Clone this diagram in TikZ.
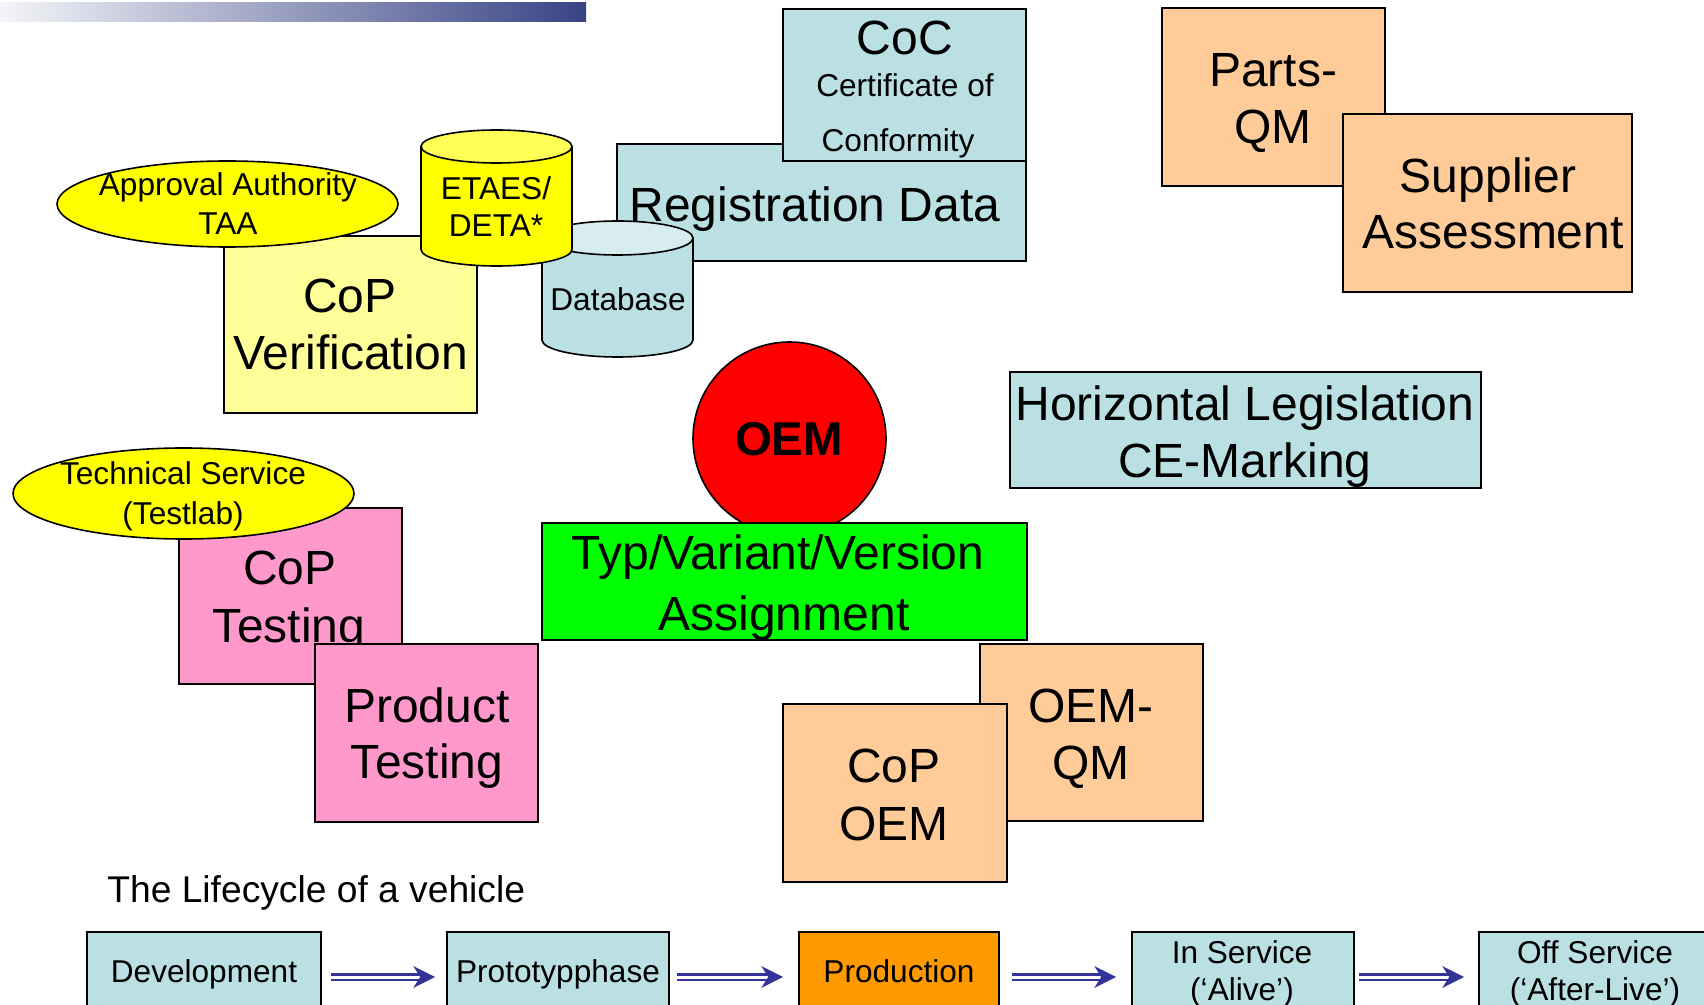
\documentclass[tikz,border=0pt]{standalone}
\usepackage{fontspec}
\setmainfont{Liberation Sans}
\usetikzlibrary{shapes.geometric}
\definecolor{lblue}{HTML}{BBE0E3}
\definecolor{lbluetop}{HTML}{D6ECEF}
\definecolor{lyellow}{HTML}{FFFF99}
\definecolor{yel}{HTML}{FFFF00}
\definecolor{yeltop}{HTML}{FFFF55}
\definecolor{pink}{HTML}{FF99CC}
\definecolor{peach}{HTML}{FFCC99}
\definecolor{prodorange}{HTML}{FF9900}
\definecolor{vgreen}{HTML}{00FF00}
\definecolor{vred}{HTML}{FF0000}
\definecolor{arrowblue}{HTML}{333399}
\definecolor{barleft}{HTML}{F4F5F8}
\definecolor{barmid}{HTML}{B6B9CB}
\definecolor{barright}{HTML}{384384}
\begin{document}
\begin{tikzpicture}[x=0.5pt,y=-0.5pt,
  box/.style={draw=black, line width=0.8pt, rectangle, inner sep=0pt},
  oval/.style={draw=black, line width=0.8pt, ellipse, inner sep=0pt, fill=yel},
  t/.style={inner sep=0pt, anchor=base},
  big/.style={font=\fontsize{24}{28}\selectfont},
  small/.style={font=\fontsize{15.8}{19}\selectfont},
  cyl/.style={draw=black, line width=0.8pt},
  dbl/.style={draw=arrowblue, double=white, line width=1.3pt, double distance=1.5pt},
  ahead/.pic={\fill[arrowblue] (0,0) -- (-22,-11) -- (-15,0) -- (-22,11) -- cycle;}
]
\useasboundingbox (0,0) rectangle (1704,1005);
\clip (0,0) rectangle (1704,1005);

% gradient bar
\shade[left color=barleft, middle color=barmid, right color=barright] (0,3) rectangle (586,22);

% Registration data + CoC
\node[box, fill=lblue, minimum width=204.5pt, minimum height=58.5pt] (reg) at (821.5,202.5) {};
\node[t, big] (regt) at (815,222) {Registration Data};
\node[box, fill=lblue, minimum width=121.5pt, minimum height=76pt] (coc) at (904.5,85) {};
\node[t, big] (coct1) at (905,55) {CoC};
\node[t, small] (coct2) at (905,97) {Certificate of};
\node[t, small] (coct3) at (898,152) {Conformity};

% Parts-QM and Supplier Assessment
\node[box, fill=peach, minimum width=111.5pt, minimum height=89pt] (parts) at (1273.5,97) {};
\node[t, big] (partst1) at (1273,87) {Parts-};
\node[t, big] (partst2) at (1273,144) {QM};
\node[box, fill=peach, minimum width=144.5pt, minimum height=89pt] (supp) at (1487.5,203) {};
\node[t, big] (suppt1) at (1488,193) {Supplier};
\node[t, big] (suppt2) at (1493,249) {Assessment};

% CoP Verification + Approval Authority
\node[box, fill=lyellow, minimum width=126.5pt, minimum height=88.5pt] (copver) at (350.5,324.5) {};
\node[t, big] (copvert1) at (350,313) {CoP};
\node[t, big] (copvert2) at (351,370) {Verification};
\node[oval, minimum width=170.5pt, minimum height=43pt] (appr) at (227.5,204) {};
\node[t, small] (apprt1) at (228,196) {Approval Authority};
\node[t, small] (apprt2) at (228,235) {TAA};

% Database cylinder
\filldraw[cyl, fill=lblue] (542,238) -- (542,340) arc[start angle=180, end angle=0, x radius=75.5, y radius=17] -- (693,238) -- cycle;
\filldraw[cyl, fill=lbluetop] (617.5,238) ellipse[x radius=75.5, y radius=17];
\node[t, small] (dbt) at (618,311) {Database};

% ETAES/DETA cylinder
\filldraw[cyl, fill=yel] (421,146.5) -- (421,249.5) arc[start angle=180, end angle=0, x radius=75.5, y radius=16.5] -- (572,146.5) -- cycle;
\filldraw[cyl, fill=yeltop] (496.5,146.5) ellipse[x radius=75.5, y radius=16.5];
\node[t, small] (etat1) at (496,200) {ETAES/};
\node[t, small] (etat2) at (496,237) {DETA*};

% OEM circle and Typ/Variant box
\node[circle, draw=black, line width=0.8pt, fill=vred, minimum size=96.5pt, inner sep=0pt] (oem) at (789.5,438.5) {};
\node[t, font=\fontsize{23.7}{28}\selectfont\bfseries] (oemt) at (789,456) {OEM};
\node[box, fill=vgreen, minimum width=242.5pt, minimum height=58.5pt] (typ) at (784.5,581.5) {};
\node[t, big] (typt1) at (778,570) {Typ/Variant/Version};
\node[t, big] (typt2) at (784,631) {Assignment};

% Horizontal legislation
\node[box, fill=lblue, minimum width=235.5pt, minimum height=58pt] (horiz) at (1245.5,430) {};
\node[t, big] (horizt1) at (1245,421) {Horizontal Legislation};
\node[t, big] (horizt2) at (1245,477.5) {CE-Marking};

% CoP Testing + Technical Service + Product Testing
\node[box, fill=pink, minimum width=111.5pt, minimum height=88pt] (copt) at (290.5,596) {};
\node[t, big] (coptt1) at (290,585) {CoP};
\node[t, big] (coptt2) at (289,642) {Testing};
\node[oval, minimum width=170.5pt, minimum height=45.5pt] (tech) at (183.5,493.5) {};
\node[t, small] (techt1) at (183,485) {Technical Service};
\node[t, small] (techt2) at (183,525) {(Testlab)};
\node[box, fill=pink, minimum width=111.5pt, minimum height=89pt] (prodt) at (426.5,733) {};
\node[t, big] (prodtt1) at (427,722) {Product};
\node[t, big] (prodtt2) at (427,778) {Testing};

% OEM-QM and CoP OEM
\node[box, fill=peach, minimum width=111.5pt, minimum height=88.5pt] (oemqm) at (1091.5,732.5) {};
\node[t, big] (oemqmt1) at (1091,722) {OEM-};
\node[t, big] (oemqmt2) at (1091,779) {QM};
\node[box, fill=peach, minimum width=112pt, minimum height=89pt] (copoem) at (895,793) {};
\node[t, big] (copoemt1) at (894,782) {CoP};
\node[t, big] (copoemt2) at (894,840) {OEM};

% Lifecycle
\node[inner sep=0pt, anchor=base west, font=\fontsize{18.6}{22}\selectfont] (life) at (107,902) {The Lifecycle of a vehicle};

\node[box, fill=lblue, minimum width=117pt, minimum height=45pt] (dev) at (204,977) {};
\node[t, small] (devt) at (204,982) {Development};
\node[box, fill=lblue, minimum width=111pt, minimum height=45pt] (proto) at (558,977) {};
\node[t, small] (protot) at (558,982) {Prototypphase};
\node[box, fill=prodorange, minimum width=100pt, minimum height=45pt] (prod) at (899,977) {};
\node[t, small] (prodt) at (899,982) {Production};
\node[box, fill=lblue, minimum width=111pt, minimum height=45pt] (insvc) at (1243,977) {};
\node[t, small] (insvct1) at (1242,963) {In Service};
\node[t, small] (insvct2) at (1242,1000) {(‘Alive’)};
\node[box, fill=lblue, minimum width=116.5pt, minimum height=45pt] (offsvc) at (1595.5,977) {};
\node[t, small] (offsvct1) at (1595,963) {Off Service};
\node[t, small] (offsvct2) at (1595,1000) {(‘After-Live’)};

% arrows
\draw[dbl, shorten <=4.5pt, shorten >=12.5pt] (dev.east) -- (proto.west);
\pic at ([xshift=-5.5pt]proto.west) {ahead};
\draw[dbl, shorten <=3.5pt, shorten >=14.5pt] (proto.east) -- (prod.west);
\pic at ([xshift=-7.5pt]prod.west) {ahead};
\draw[dbl, shorten <=6pt, shorten >=14.5pt] (prod.east) -- (insvc.west);
\pic at ([xshift=-7.5pt]insvc.west) {ahead};
\draw[dbl, shorten <=2pt, shorten >=14pt] (insvc.east) -- (offsvc.west);
\pic at ([xshift=-7pt]offsvc.west) {ahead};
\end{tikzpicture}
\end{document}
